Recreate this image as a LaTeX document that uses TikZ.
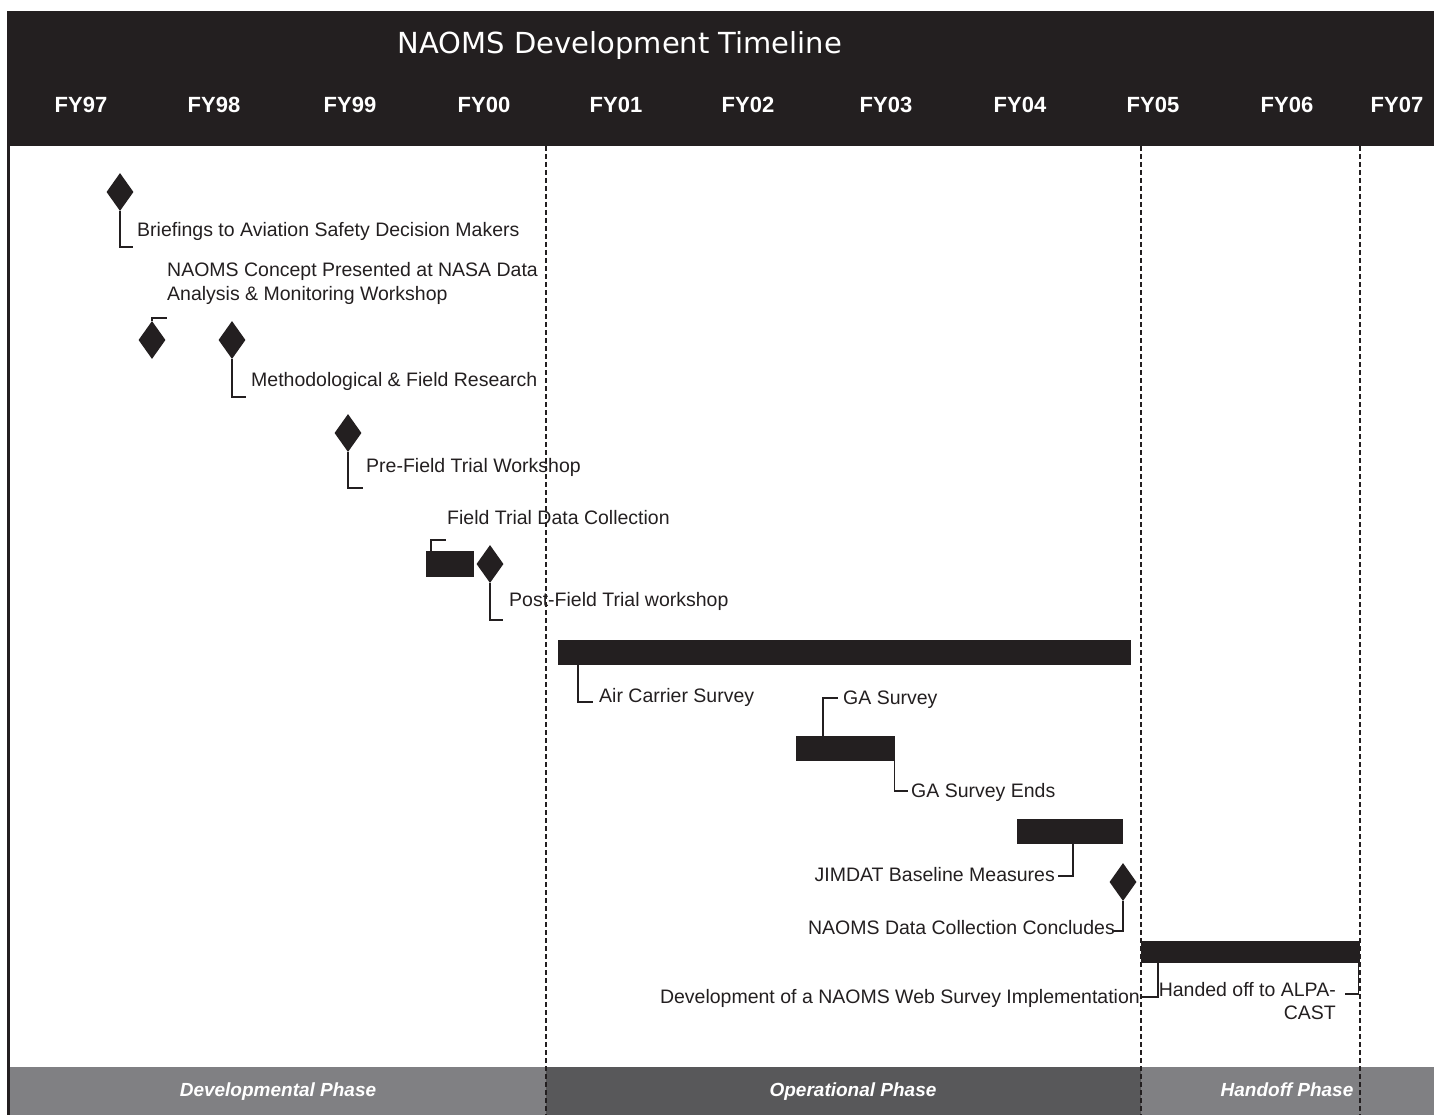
\documentclass[tikz,border=0pt]{standalone}
\usepackage{fontspec}
\setmainfont{Liberation Sans}
\newfontfamily\titlefont{DejaVu Sans}
\usepackage{tikz}
\usetikzlibrary{shapes.geometric}
\definecolor{ink}{RGB}{35, 31, 32}
\definecolor{light}{RGB}{128, 128, 131}
\definecolor{dark}{RGB}{88, 88, 90}

\tikzset{
  milestone/.style={diamond, fill=ink, inner sep=0pt, minimum width=27pt, minimum height=38pt},
  bar/.style={rectangle, fill=ink, inner sep=0pt, anchor=north west},
  note/.style={text=ink, inner sep=0pt, text height=17pt, text depth=2pt,
    font=\fontsize{19.5}{23.5}\selectfont},
  year/.style={text=white, font=\bfseries\fontsize{22}{26}\selectfont},
  phase/.style={text=white, inner sep=0pt, text height=16pt, text depth=2pt,
    font=\bfseries\itshape\fontsize{19}{23}\selectfont},
  link/.style={draw=ink, line width=1.3pt},
  divider/.style={draw=ink, line width=1.2pt, dash pattern=on 5pt off 3pt}
}

\begin{document}
\begin{tikzpicture}[x=1pt, y=-1pt]
  \useasboundingbox (0, 0) rectangle (1434, 1115);

  \fill [ink] (7, 11) rectangle (1434, 146);
  \node[text=white, font=\titlefont\fontsize{29}{34}\selectfont] (title) at (620, 46) {NAOMS Development Timeline};
  \foreach \x/\yr in {81/97, 214/98, 350/99, 484/00, 616/01, 748/02, 886/03, 1020/04, 1153/05, 1287/06, 1397/07}
    \node[year] (fy\yr) at (\x, 105) {FY\yr};

  \draw [ink, line width=3pt] (8.5, 146) -- (8.5, 1115);

  \fill [light] (10, 1067) rectangle (546, 1115);
  \fill [dark] (546, 1067) rectangle (1141, 1115);
  \fill [light] (1141, 1067) rectangle (1434, 1115);
  \node[phase] (devphase) at (278, 1089) {Developmental Phase};
  \node[phase] (opphase) at (853, 1089) {Operational Phase};
  \node[phase] (handphase) at (1287, 1089) {Handoff Phase};

  \foreach \x in {546, 1141, 1360}
    \draw [divider] (\x, 146) -- (\x, 1115);

  \node[milestone] (brief) at (120, 192) {};
  \node[note, anchor=west] (briefnote) at (137, 229) {Briefings to Aviation Safety Decision Makers};
  \coordinate (c1) at (133, 247);
  \draw [link] (brief.south) |- (c1);

  \node[milestone] (concept) at (152, 340) {};
  \node[note, anchor=west, align=left, text height=, text depth=] (conceptnote) at (167, 283.5)
    {NAOMS Concept Presented at NASA Data\\Analysis \& Monitoring Workshop};
  \coordinate (c2) at (167, 318);
  \draw [link] (concept.north) |- (c2);

  \node[milestone] (method) at (232, 340) {};
  \node[note, anchor=west] (methodnote) at (251, 379) {Methodological \& Field Research};
  \coordinate (c3) at (246, 397);
  \draw [link] (method.south) |- (c3);

  \node[milestone] (prefield) at (348, 433) {};
  \node[note, anchor=west] (prefieldnote) at (366, 465) {Pre-Field Trial Workshop};
  \coordinate (c4) at (363, 488);
  \draw [link] (prefield.south) |- (c4);

  \node[bar, minimum width=48pt, minimum height=26pt] (ftbar) at (426, 551) {};
  \node[note, anchor=west] (ftnote) at (447, 517) {Field Trial Data Collection};
  \coordinate (c5) at (446, 540);
  \draw [link] ([xshift=5pt]ftbar.north west) |- (c5);

  \node[milestone] (postfield) at (490, 564) {};
  \node[note, anchor=west] (postfieldnote) at (509, 599) {Post-Field Trial workshop};
  \coordinate (c6) at (503, 620);
  \draw [link] (postfield.south) |- (c6);

  \node[bar, minimum width=573pt, minimum height=25pt] (acbar) at (558, 640) {};
  \node[note, anchor=west] (acnote) at (599, 695) {Air Carrier Survey};
  \coordinate (c7) at (593, 702);
  \draw [link] ([xshift=20pt]acbar.south west) |- (c7);

  \node[bar, minimum width=99pt, minimum height=25pt] (gabar) at (796, 736) {};
  \node[note, anchor=west] (ganote) at (843, 697) {GA Survey};
  \coordinate (c8) at (838, 698);
  \draw [link] ([xshift=27pt]gabar.north west) |- (c8);
  \node[note, anchor=west] (gaendnote) at (911, 790) {GA Survey Ends};
  \coordinate (c9) at (908, 791);
  \draw [link] ([xshift=-1pt]gabar.south east) |- (c9);

  \node[bar, minimum width=106pt, minimum height=25pt] (jimbar) at (1017, 819) {};
  \node[note, anchor=east] (jimnote) at (1055, 874) {JIMDAT Baseline Measures};
  \coordinate (c10) at (1058, 876);
  \draw [link] ([xshift=56pt]jimbar.south west) |- (c10);

  \node[milestone] (collectend) at (1123, 882) {};
  \node[note, anchor=east] (collectendnote) at (1115, 927) {NAOMS Data Collection Concludes};
  \coordinate (c11) at (1112, 931);
  \draw [link] (collectend.south) |- (c11);

  \node[bar, minimum width=219pt, minimum height=22pt] (webbar) at (1141, 941) {};
  \node[note, anchor=east] (webnote) at (1140, 996) {Development of a NAOMS Web Survey Implementation};
  \coordinate (c12) at (1142, 997);
  \draw [link] ([xshift=17pt]webbar.south west) |- (c12);
  \node[note, anchor=east, align=right, text height=, text depth=] (handnote) at (1336, 1001) {Handed off to ALPA-\\CAST};
  \coordinate (c13) at (1345, 994);
  \draw [link] ([xshift=-2pt]webbar.south east) |- (c13);
\end{tikzpicture}
\end{document}
